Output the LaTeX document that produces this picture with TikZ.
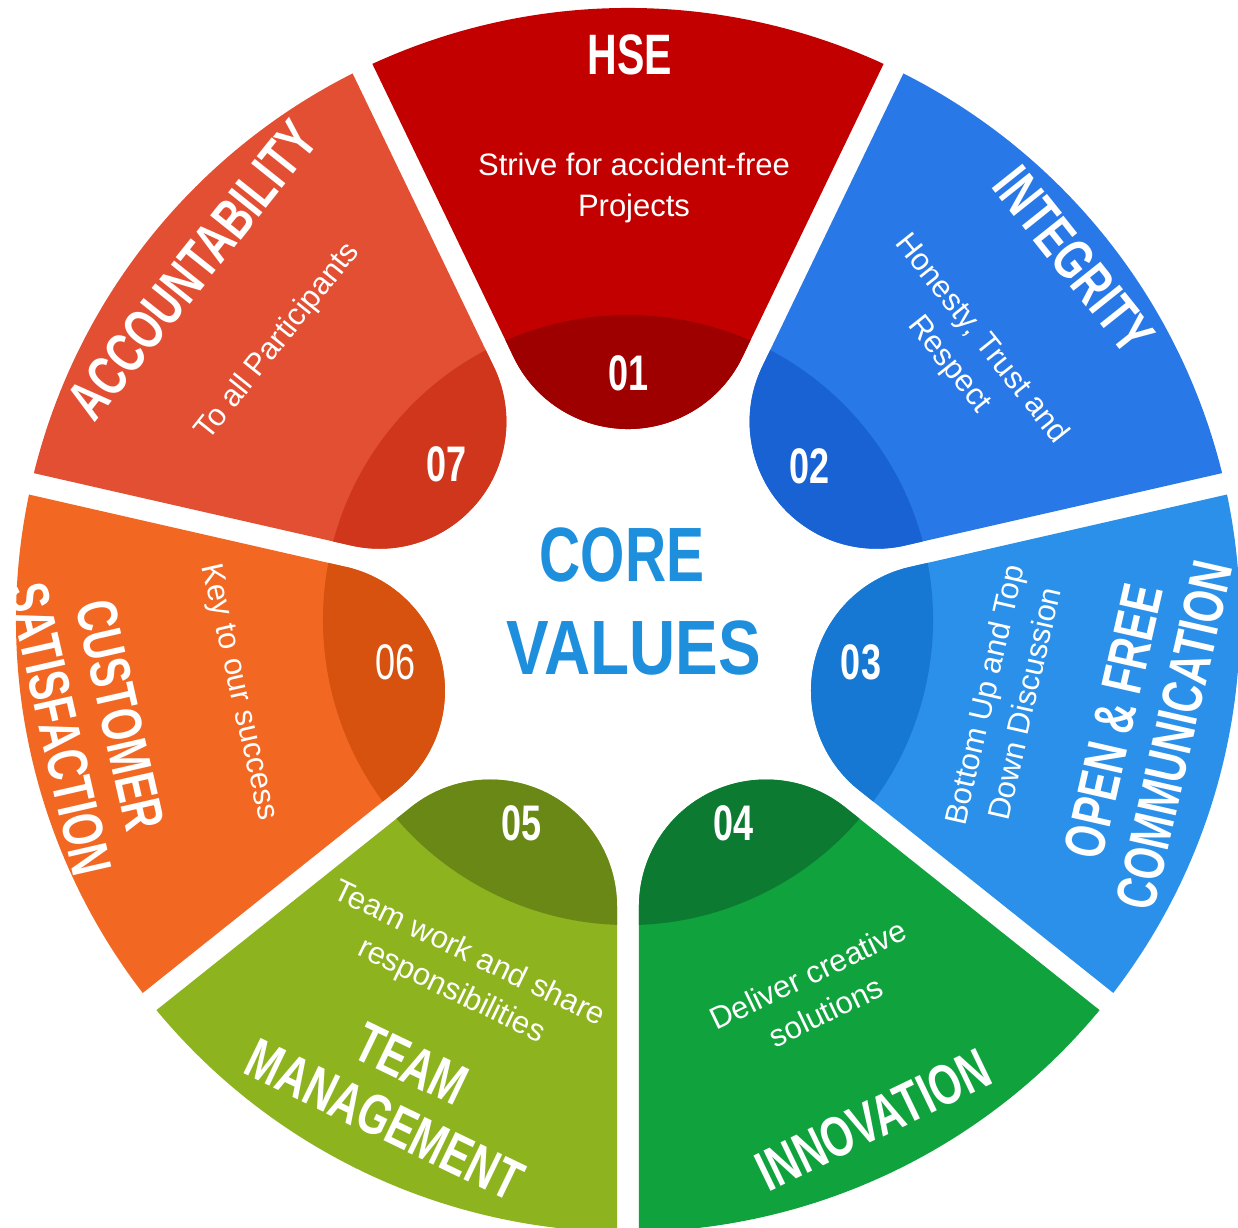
\documentclass[tikz,border=0pt]{standalone}
\usepackage{fontspec}
\setmainfont{Liberation Sans}
\newfontfamily\hfont[FakeStretch=0.72]{Liberation Sans}
\newfontfamily\cfont[FakeStretch=0.74]{Liberation Sans}
\newfontfamily\vfont[FakeStretch=0.83]{Liberation Sans}
\definecolor{hseC}{RGB}{194,0,0}
\definecolor{hseD}{RGB}{158,0,0}
\definecolor{intC}{RGB}{40,120,232}
\definecolor{intD}{RGB}{24,98,212}
\definecolor{opnC}{RGB}{42,144,234}
\definecolor{opnD}{RGB}{22,120,210}
\definecolor{innC}{RGB}{16,162,60}
\definecolor{innD}{RGB}{12,122,48}
\definecolor{teaC}{RGB}{141,179,31}
\definecolor{teaD}{RGB}{106,136,22}
\definecolor{cusC}{RGB}{242,104,34}
\definecolor{cusD}{RGB}{214,82,14}
\definecolor{accC}{RGB}{227,79,51}
\definecolor{accD}{RGB}{208,54,28}
\definecolor{coreC}{RGB}{30,143,220}
\tikzset{
  ttl/.style={text=white, inner sep=0pt, align=center,
    font=\hfont\bfseries\fontsize{57}{62}\selectfont},
  subt/.style={text=white, inner sep=0pt, align=center,
    font=\fontsize{31}{41}\selectfont},
  numb/.style={text=white, inner sep=0pt,
    font=\hfont\bfseries\fontsize{50}{50}\selectfont},
  numl/.style={text=white, inner sep=0pt,
    font=\hfont\fontsize{50}{50}\selectfont},
}
\newcommand\cvseg[3]{%
  \begin{scope}[rotate=#1-90]
    \fill[#2] (114.4,262.9) -- (255.6,556.1)
      arc[start angle=65.31, end angle=114.69, radius=612pt]
      -- (-114.4,262.9)
      arc[start angle=205.71, end angle=334.29, radius=127pt] -- cycle;
    \begin{scope}
      \clip (114.4,262.9) -- (255.6,556.1)
        arc[start angle=65.31, end angle=114.69, radius=612pt]
        -- (-114.4,262.9)
        arc[start angle=205.71, end angle=334.29, radius=127pt] -- cycle;
      \fill[#3] (0,0) circle[radius=305pt];
    \end{scope}
  \end{scope}}
\begin{document}
\begin{tikzpicture}[x=1pt,y=1pt]
\useasboundingbox (-628,-607) rectangle (610,620);
\clip (-628,-607) rectangle (610,620);
\fill[white] (-628,-607) rectangle (610,620);
\cvseg{90}{hseC}{hseD}
\cvseg{38.571}{intC}{intD}
\cvseg{-12.857}{opnC}{opnD}
\cvseg{-64.286}{innC}{innD}
\cvseg{-115.714}{teaC}{teaD}
\cvseg{-167.143}{cusC}{cusD}
\cvseg{141.429}{accC}{accD}
% HSE
\node[ttl] (t1) at (2,565) {HSE};
\node[subt] (s1) at (6,432) {Strive for accident-free\\Projects};
\node[numb] (n1) at (1,247) {01};
% Integrity
\node[ttl, rotate=-51.43] (t2) at (446,360) {INTEGRITY};
\node[subt, rotate=-51.43] (s2) at (337,268) {Honesty, Trust and\\Respect};
\node[numb] (n2) at (182,154) {02};
% Open & free
\node[ttl, rotate=77.14] (t3) at (516,-108) {OPEN \& FREE\\COMMUNICATION};
\node[subt, rotate=77.14] (s3) at (376,-79) {Bottom Up and Top\\Down Discussion};
\node[numb] (n3) at (233,-42) {03};
% Innovation
\node[ttl, rotate=25.71] (t4) at (245,-500) {INNOVATION};
\node[subt, rotate=25.71] (s4) at (189,-373) {Deliver creative\\solutions};
\node[numb] (n4) at (106,-203) {04};
% Team
\node[ttl, rotate=-25.71] (t5) at (-230,-472) {TEAM\\MANAGEMENT};
\node[subt, rotate=-25.71] (s5) at (-168,-353) {Team work and share\\responsibilities};
\node[numb] (n5) at (-106,-203) {05};
% Customer
\node[ttl, rotate=-77.14] (t6) at (-538,-102) {CUSTOMER\\SATISFACTION};
\node[subt, rotate=-77.14] (s6) at (-390,-72) {Key to our success};
\node[numl] (n6) at (-232,-42) {06};
% Accountability
\node[ttl, rotate=51.43] (t7) at (-436,350) {ACCOUNTABILITY};
\node[subt, rotate=51.43] (s7) at (-350,278) {To all Participants};
\node[numb] (n7) at (-181,156) {07};
% centre
\node[text=coreC, inner sep=0pt, font=\cfont\bfseries\fontsize{77}{77}\selectfont] (core) at (-6,65) {CORE};
\node[text=coreC, inner sep=0pt, font=\vfont\bfseries\fontsize{77}{77}\selectfont] (vals) at (6,-28) {VALUES};
\end{tikzpicture}
\end{document}
